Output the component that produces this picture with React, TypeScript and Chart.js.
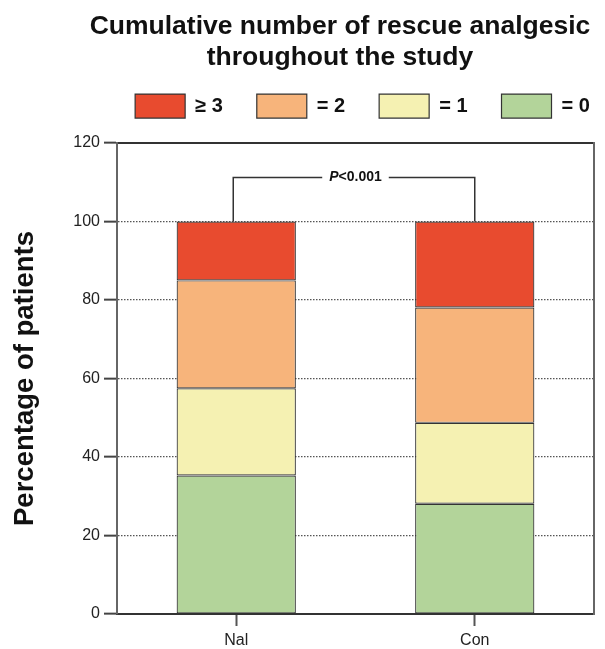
import React, { useEffect, useRef } from "react";
import { Chart, registerables } from "chart.js";

Chart.register(...registerables);

const FONT = "'Liberation Sans', Arial, Helvetica, sans-serif";

const categories = ["Nal", "Con"];
const legendLabels = ["= 0", "= 1", "= 2", "\u2265 3"];
const valuesZero = [35.3, 28.1];
const valuesOne = [22.2, 20.6];
const valuesTwo = [27.5, 29.4];
const valuesThreePlus = [15.0, 21.9];
const segmentColors = ["#B3D49A", "#F5F1B2", "#F7B47B", "#E84B2F"];
const titleLines = ["Cumulative number of rescue analgesic", "throughout the study"];
const yAxisLabel = "Percentage of patients";
const yMin = 0;
const yMax = 120;
const yStep = 20;
const bracketLevel = 111.2;
const pLetter = "P";
const pRest = "<0.001";

const seriesValues = [valuesZero, valuesOne, valuesTwo, valuesThreePlus];
const stackTotal = (i: number) => seriesValues.reduce((s, arr) => s + arr[i], 0);

const annotationPlugin = {
  id: "annotations",
  afterLayout(chart: any) {
    const tb = chart.titleBlock;
    if (tb) {
      tb.left = 75;
    }
    const lg = chart.legend;
    if (lg) {
      lg.left += 60;
      lg.right += 60;
    }
  },
  afterDatasetsDraw(chart: any) {
    const { ctx, scales } = chart;
    const x = scales.x;
    const y = scales.y;
    const yb = y.getPixelForValue(bracketLevel);
    const xl = x.getPixelForValue(0);
    const xr = x.getPixelForValue(1);
    const topL = y.getPixelForValue(stackTotal(0));
    const topR = y.getPixelForValue(stackTotal(1));
    ctx.save();
    ctx.font = `italic bold 14px ${FONT}`;
    const wP = ctx.measureText(pLetter).width;
    ctx.font = `bold 14px ${FONT}`;
    const wR = ctx.measureText(pRest).width;
    const tw = wP + wR;
    const cx = (xl + xr) / 2;
    const gap = tw / 2 + 7;
    ctx.strokeStyle = "#333";
    ctx.lineWidth = 1.5;
    ctx.beginPath();
    ctx.moveTo(xl - 3, topL);
    ctx.lineTo(xl - 3, yb);
    ctx.lineTo(cx - gap, yb);
    ctx.moveTo(cx + gap, yb);
    ctx.lineTo(xr, yb);
    ctx.lineTo(xr, topR);
    ctx.stroke();
    ctx.fillStyle = "#111";
    ctx.textBaseline = "middle";
    ctx.textAlign = "left";
    ctx.font = `italic bold 14px ${FONT}`;
    ctx.fillText(pLetter, cx - tw / 2, yb);
    ctx.font = `bold 14px ${FONT}`;
    ctx.fillText(pRest, cx - tw / 2 + wP, yb);
    ctx.restore();
  },
};

export default function App() {
  const canvasRef = useRef<HTMLCanvasElement | null>(null);

  useEffect(() => {
    if (!canvasRef.current) return;
    const chart = new Chart(canvasRef.current, {
      type: "bar",
      data: {
        labels: categories,
        datasets: seriesValues.map((vals, i) => ({
          label: legendLabels[i],
          data: vals,
          backgroundColor: segmentColors[i],
          borderColor: "#333",
          borderWidth: 1.2,
          borderSkipped: false,
          categoryPercentage: 1,
          barPercentage: 0.5,
        })),
      },
      options: {
        animation: false,
        responsive: true,
        maintainAspectRatio: false,
        layout: { padding: 0 },
        plugins: {
          title: {
            display: true,
            text: titleLines,
            color: "#111",
            fullSize: true,
            font: { family: FONT, size: 26.5, weight: "bold", lineHeight: 1.18 },
            padding: { top: 11, bottom: -13.5 },
          },
          legend: {
            display: true,
            position: "top",
            fullSize: true,
            reverse: true,
            labels: {
              boxWidth: 50,
              boxHeight: 24,
              padding: 34,
              color: "#111",
              font: { family: FONT, size: 20, weight: "bold" },
            },
          },
          tooltip: { enabled: false },
        },
        scales: {
          x: {
            stacked: true,
            position: "bottom",
            grid: {
              offset: false,
              drawOnChartArea: false,
              tickLength: 12,
              tickColor: "#555",
              tickWidth: 2,
            },
            border: { color: "#333", width: 2 },
            ticks: { font: { family: FONT, size: 16 }, color: "#222", padding: 5 },
            afterFit: (s: any) => {
              s.height = 35;
            },
          },
          x2: {
            type: "category",
            position: "top",
            grid: { display: false, drawTicks: false },
            ticks: { display: false },
            border: { display: true, color: "#333", width: 2 },
            afterFit: (s: any) => {
              s.height = 15;
            },
          },
          y: {
            stacked: true,
            min: yMin,
            max: yMax,
            position: "left",
            ticks: {
              stepSize: yStep,
              font: { family: FONT, size: 16 },
              color: "#222",
              padding: 4,
            },
            grid: {
              color: (c: any) =>
                c.tick && (c.tick.value === yMin || c.tick.value === yMax) ? "rgba(0,0,0,0)" : "#555",
              lineWidth: 1.3,
              tickLength: 13,
              tickColor: "#444",
              tickWidth: 2,
            },
            border: { color: "#666", width: 2, dash: [1.5, 1.5] },
            title: {
              display: true,
              text: yAxisLabel,
              color: "#111",
              font: { family: FONT, size: 27.5, weight: "bold", lineHeight: 1.2 },
              padding: { top: 9, bottom: 0 },
            },
            afterFit: (s: any) => {
              s.width = 117;
            },
          },
          y2: {
            type: "linear",
            position: "right",
            grid: { display: false, drawTicks: false },
            ticks: { display: false },
            border: { display: true, color: "#666", width: 2 },
            afterFit: (s: any) => {
              s.width = 11;
            },
          },
        },
      },
      plugins: [annotationPlugin],
    } as any);
    return () => chart.destroy();
  }, []);

  return (
    <div style={{ position: "fixed", left: 0, top: 0, width: 605, height: 649, background: "#fff" }}>
      <canvas ref={canvasRef} />
    </div>
  );
}
